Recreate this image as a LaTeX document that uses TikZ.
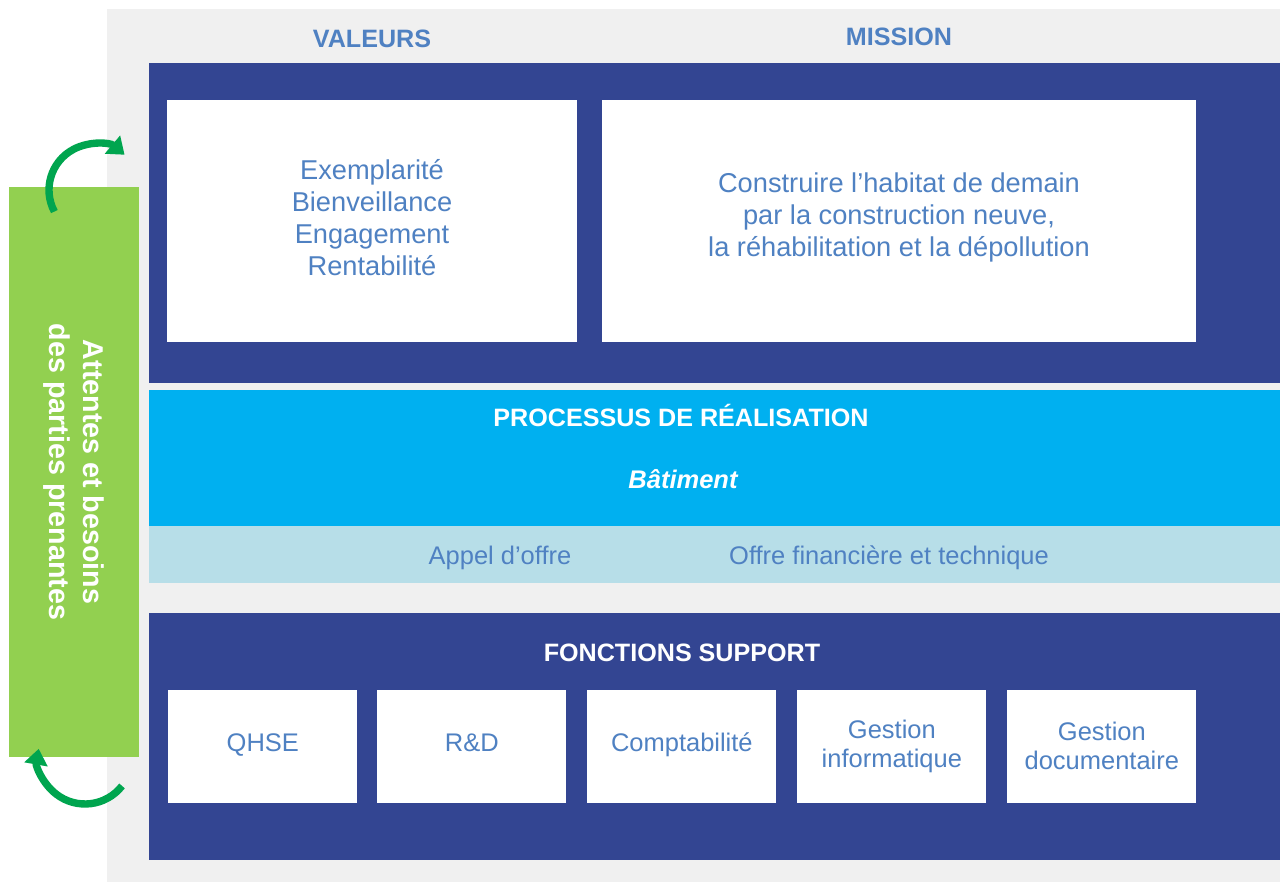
\documentclass[tikz,border=0pt]{standalone}
\usepackage{fontspec}
\setmainfont{Liberation Sans}
\usetikzlibrary{arrows.meta, calc}
\definecolor{smnavy}{HTML}{334592}
\definecolor{smcyan}{HTML}{00B0F0}
\definecolor{smpale}{HTML}{B7DEE8}
\definecolor{smgray}{HTML}{F0F0F0}
\definecolor{smtext}{HTML}{4F81C2}
\definecolor{smlime}{HTML}{92D050}
\definecolor{smgreen}{HTML}{00A54F}

\begin{document}
\begin{tikzpicture}[
  x=0.2mm, y=0.2mm,
  whitebox/.style={rectangle, fill=white, draw=none, anchor=south west, minimum width=189*0.2mm, minimum height=113*0.2mm, align=center, text=smtext, font=\fontsize{14.5}{16.5}\selectfont},
  head/.style={font=\fontsize{14.3}{17}\selectfont\bfseries, text=#1},
  bodytext/.style={align=center, text=smtext, font=\fontsize{15.5}{18.2}\selectfont},
  bandtext/.style={text=smtext, font=\fontsize{14.5}{17}\selectfont},
  loop/.style={smgreen, line width=4.2pt, -{Triangle[length=9pt, width=13pt]}},
]
\useasboundingbox (0,0) rectangle (1280,882);
\fill[white] (0,0) rectangle (1280,882);

% background panels
\fill[smgray] (107,0) rectangle (1280,873);
\fill[smnavy] (149,499) rectangle (1280,819);
\fill[smcyan] (149,356) rectangle (1280,492);
\fill[smpale] (149,299) rectangle (1280,356);
\fill[smnavy] (149,22) rectangle (1280,269);

% Valeurs and mission
\node[head=smtext] (valhead) at (372,843) {VALEURS};
\node[head=smtext] (mishead) at (899,845) {MISSION};
\fill[white] (167,540) rectangle (577,782);
\fill[white] (602,540) rectangle (1196,782);
\node[bodytext] (valeurs) at (372,664) {Exemplarité\\Bienveillance\\Engagement\\Rentabilité};
\node[bodytext] (mission) at (899,665) {Construire l’habitat de demain\\par la construction neuve,\\la réhabilitation et la dépollution};

% Processus de realisation
\node[head=white] (prochead) at (681,466) {PROCESSUS DE RÉALISATION};
\node[font=\fontsize{14.5}{17}\selectfont\bfseries\itshape, text=white] (batiment) at (683,403) {Bâtiment};
\node[bandtext] (appel) at (500,324) {Appel d’offre};
\node[bandtext] (offre) at (889,324) {Offre financière et technique};

% Fonctions support
\node[head=white] (supphead) at (682,229) {FONCTIONS SUPPORT};
\node[whitebox] (qhse) at (168,79) {QHSE\strut};
\node[whitebox] (rd) at (377,79) {R\&D\strut};
\node[whitebox] (compta) at (587,79) {Comptabilité\strut};
\node[whitebox] (info) at (797,79) {Gestion\\informatique};
\node[whitebox] (docu) at (1007,79) {Gestion\\documentaire};

% Parties prenantes
\node[rectangle, fill=smlime, minimum width=130*0.2mm, minimum height=570*0.2mm] (pp) at (74,410) {};
\node[rotate=-90, align=center, text=white, font=\fontsize{16.3}{19.3}\selectfont\bfseries] (pptext) at (pp.center) {Attentes et besoins\\des parties prenantes};

\coordinate (toptail) at ($(95,692)+(208:9.2mm)$);
\coordinate (bottail) at ($(85,125)+(-38:9.4mm)$);
\draw[loop] (toptail) arc[start angle=208, end angle=50, radius=9.2mm];
\draw[loop] (bottail) arc[start angle=-38, end angle=-190, radius=9.4mm];

\end{tikzpicture}
\end{document}
